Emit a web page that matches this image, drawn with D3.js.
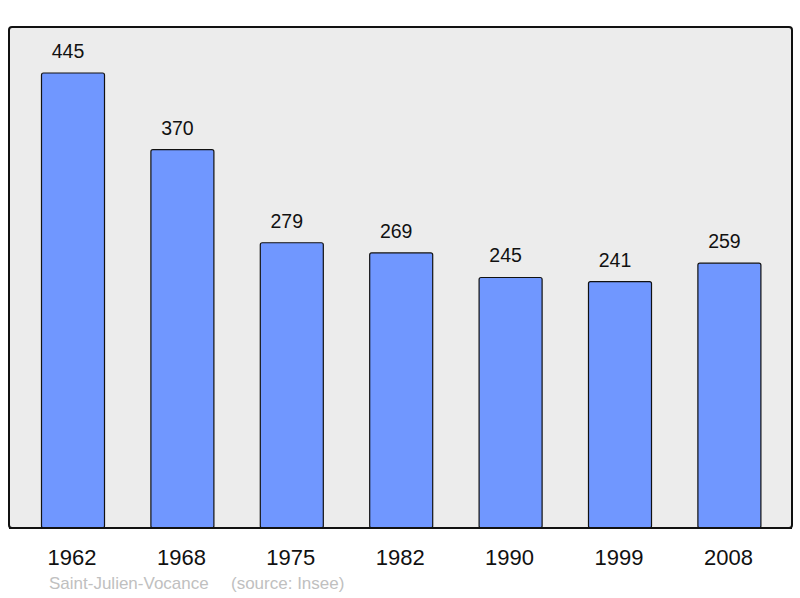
<!DOCTYPE html>
<html><head><meta charset="utf-8">
<script src="https://cdn.jsdelivr.net/npm/d3@7"></script>
<style>html,body{margin:0;padding:0;background:#fff;}svg{display:block;}</style>
</head><body>
<script>
const years = ["1962","1968","1975","1982","1990","1999","2008"];
const population = [445, 370, 279, 269, 245, 241, 259];
const commune = "Saint-Julien-Vocance";
const source = "(source: Insee)";

const W = 800, H = 598;
const svg = d3.select("body").append("svg").attr("width", W).attr("height", H);
const font = "'Liberation Sans', Arial, sans-serif";

const frame = {x: 9, y: 27, w: 783, h: 501};
svg.append("rect").attr("x", frame.x).attr("y", frame.y).attr("width", frame.w).attr("height", frame.h)
  .attr("rx", 3).attr("fill", "#ececec").attr("stroke", "#111").attr("stroke-width", 2);

const x = d3.scaleBand().domain(years).range([18.3, 784.1]).paddingInner(0.424).paddingOuter(0.212);
const y = d3.scaleLinear().domain([0, 445]).range([528, 73]);

const data = years.map((yr, i) => ({yr, v: population[i]}));

svg.selectAll("rect.bar").data(data).enter().append("rect").attr("class", "bar")
  .attr("x", d => x(d.yr)).attr("y", d => y(d.v))
  .attr("width", x.bandwidth()).attr("height", d => y(0) - y(d.v))
  .attr("rx", 2).attr("fill", "#7097ff").attr("stroke", "#111").attr("stroke-width", 1.2);

svg.append("line").attr("x1", frame.x).attr("x2", frame.x + frame.w).attr("y1", 528).attr("y2", 528)
  .attr("stroke", "#111").attr("stroke-width", 2);

svg.selectAll("text.val").data(data).enter().append("text").attr("class", "val")
  .attr("x", d => x(d.yr) + x.bandwidth() / 2 - 5).attr("y", d => y(d.v) - 15)
  .attr("text-anchor", "middle").attr("font-family", font).attr("font-size", 19.5).attr("fill", "#111")
  .text(d => d.v);

svg.selectAll("text.yr").data(data).enter().append("text").attr("class", "yr")
  .attr("x", d => x(d.yr) + x.bandwidth() / 2 - 1).attr("y", 565)
  .attr("text-anchor", "middle").attr("font-family", font).attr("font-size", 22).attr("fill", "#111")
  .text(d => d.yr);

svg.append("text").attr("x", 49).attr("y", 589).attr("font-family", font).attr("font-size", 17)
  .attr("fill", "#c0c0c0").text(commune);
svg.append("text").attr("x", 231).attr("y", 589).attr("font-family", font).attr("font-size", 17)
  .attr("fill", "#c0c0c0").text(source);
</script>
</body></html>
